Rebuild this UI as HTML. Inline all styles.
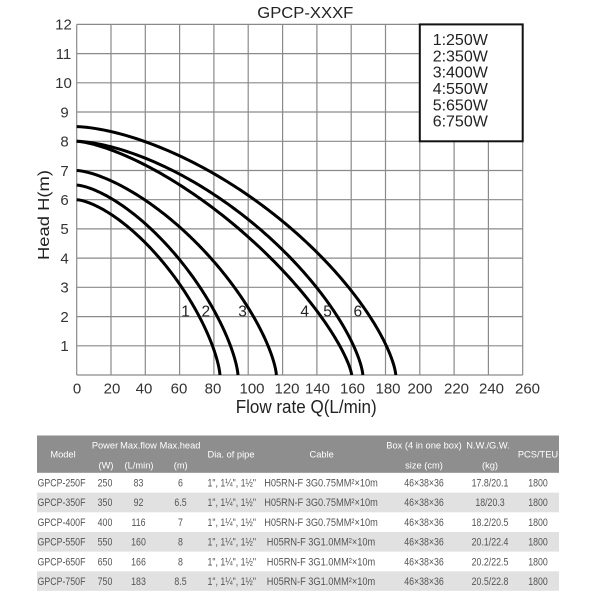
<!DOCTYPE html>
<html>
<head>
<meta charset="utf-8">
<style>
html,body{margin:0;padding:0;background:#fff;}
svg{display:block;}
text{font-family:"Liberation Sans",Arial,sans-serif;}
</style>
</head>
<body>
<svg width="600" height="600" viewBox="0 0 600 600" xmlns="http://www.w3.org/2000/svg">
<rect width="600" height="600" fill="#fff"/>

<!-- grid -->
<g stroke="#8a8a8a" stroke-width="1.2">
<line x1="76.7" y1="24.4" x2="76.7" y2="375"/>
<line x1="111.0" y1="24.4" x2="111.0" y2="375"/>
<line x1="145.3" y1="24.4" x2="145.3" y2="375"/>
<line x1="179.6" y1="24.4" x2="179.6" y2="375"/>
<line x1="213.9" y1="24.4" x2="213.9" y2="375"/>
<line x1="248.2" y1="24.4" x2="248.2" y2="375"/>
<line x1="282.6" y1="24.4" x2="282.6" y2="375"/>
<line x1="316.9" y1="24.4" x2="316.9" y2="375"/>
<line x1="351.2" y1="24.4" x2="351.2" y2="375"/>
<line x1="385.5" y1="24.4" x2="385.5" y2="375"/>
<line x1="419.8" y1="24.4" x2="419.8" y2="375"/>
<line x1="454.1" y1="24.4" x2="454.1" y2="375"/>
<line x1="488.4" y1="24.4" x2="488.4" y2="375"/>
<line x1="522.7" y1="24.4" x2="522.7" y2="375"/>
<line x1="76.7" y1="375" x2="522.7" y2="375"/>
<line x1="76.7" y1="345.8" x2="522.7" y2="345.8"/>
<line x1="76.7" y1="316.6" x2="522.7" y2="316.6"/>
<line x1="76.7" y1="287.3" x2="522.7" y2="287.3"/>
<line x1="76.7" y1="258.1" x2="522.7" y2="258.1"/>
<line x1="76.7" y1="228.9" x2="522.7" y2="228.9"/>
<line x1="76.7" y1="199.7" x2="522.7" y2="199.7"/>
<line x1="76.7" y1="170.5" x2="522.7" y2="170.5"/>
<line x1="76.7" y1="141.3" x2="522.7" y2="141.3"/>
<line x1="76.7" y1="112.0" x2="522.7" y2="112.0"/>
<line x1="76.7" y1="82.8" x2="522.7" y2="82.8"/>
<line x1="76.7" y1="53.6" x2="522.7" y2="53.6"/>
<line x1="76.7" y1="24.4" x2="522.7" y2="24.4"/>
</g>

<!-- legend box -->
<rect x="419.8" y="24.4" width="102.9" height="116.9" fill="#fff" stroke="#111" stroke-width="2"/>
<g font-size="16" fill="#222">
<text x="432.7" y="45">1:250W</text>
<text x="432.7" y="61.3">2:350W</text>
<text x="432.7" y="77.6">3:400W</text>
<text x="432.7" y="94">4:550W</text>
<text x="432.7" y="110.3">5:650W</text>
<text x="432.7" y="126.6">6:750W</text>
</g>

<!-- curves -->
<g id="curves" fill="none" stroke="#000" stroke-width="3" stroke-linejoin="round" stroke-linecap="butt"></g>

<!-- curve labels -->
<g font-size="15.5" fill="#222" text-anchor="middle">
<text x="185.5" y="316.5">1</text>
<text x="205.8" y="316.5">2</text>
<text x="242.5" y="316.5">3</text>
<text x="304.7" y="316.5">4</text>
<text x="327.5" y="316.5">5</text>
<text x="357.8" y="316.5">6</text>
</g>

<!-- title -->
<text x="305.3" y="17.8" font-size="16" fill="#222" text-anchor="middle" textLength="96" lengthAdjust="spacingAndGlyphs">GPCP-XXXF</text>

<!-- y tick labels -->
<g font-size="15" fill="#333" text-anchor="middle">
<text x="63.5" y="29.7">12</text>
<text x="63.5" y="58.9">11</text>
<text x="63.5" y="88.1">10</text>
<text x="64.5" y="117.3">9</text>
<text x="64.5" y="146.6">8</text>
<text x="64.5" y="175.8">7</text>
<text x="64.5" y="205">6</text>
<text x="64.5" y="234.2">5</text>
<text x="64.5" y="263.4">4</text>
<text x="64.5" y="292.6">3</text>
<text x="64.5" y="321.9">2</text>
<text x="64.5" y="351.1">1</text>
</g>

<!-- x tick labels -->
<g font-size="15" fill="#333" text-anchor="middle">
<text x="77" y="393.7">0</text>
<text x="112" y="393.7">20</text>
<text x="144" y="393.7">40</text>
<text x="179" y="393.7">60</text>
<text x="213" y="393.7">80</text>
<text x="252" y="393.7">100</text>
<text x="287" y="393.7">120</text>
<text x="317.5" y="393.7">140</text>
<text x="352.5" y="393.7">160</text>
<text x="388" y="393.7">180</text>
<text x="420" y="393.7">200</text>
<text x="456.5" y="393.7">220</text>
<text x="491.5" y="393.7">240</text>
<text x="527.5" y="393.7">260</text>
</g>

<!-- axis titles -->
<text x="306.2" y="413" font-size="18" fill="#222" text-anchor="middle" textLength="141" lengthAdjust="spacingAndGlyphs">Flow rate Q(L/min)</text>
<text transform="translate(49,215) rotate(-90)" x="0" y="0" font-size="16" fill="#222" text-anchor="middle" textLength="90" lengthAdjust="spacingAndGlyphs">Head H(m)</text>

<!-- table -->
<rect x="37" y="435.5" width="522" height="37.3" fill="#8e8e8e"/>
<rect x="37" y="492.6" width="522" height="19.7" fill="#e1e1e1"/>
<rect x="37" y="532" width="522" height="19.6" fill="#e1e1e1"/>
<rect x="37" y="571.3" width="522" height="19.5" fill="#e1e1e1"/>

<g font-size="9.3" fill="#fff" text-anchor="middle">
<text x="63" y="457.5">Model</text>
<text x="105" y="448.5">Power</text>
<text x="138.5" y="448.5">Max.flow</text>
<text x="180" y="448.5">Max.head</text>
<text x="106" y="468.5">(W)</text>
<text x="139" y="468.5">(L/min)</text>
<text x="180.7" y="468.5">(m)</text>
<text x="231" y="457.5">Dia. of pipe</text>
<text x="321.7" y="457.5">Cable</text>
<text x="424" y="448.5">Box (4 in one box)</text>
<text x="424" y="468.5">size (cm)</text>
<text x="488" y="448.5">N.W./G.W.</text>
<text x="490" y="468.5">(kg)</text>
<text x="538" y="457.5">PCS/TEU</text>
</g>

<g font-size="11" fill="#555" text-anchor="middle">
<g transform="translate(61.5,0) scale(0.8,1)">
<text x="0" y="486.4">GPCP-250F</text>
<text x="0" y="506.2">GPCP-350F</text>
<text x="0" y="526">GPCP-400F</text>
<text x="0" y="545.7">GPCP-550F</text>
<text x="0" y="565.4">GPCP-650F</text>
<text x="0" y="585">GPCP-750F</text>
</g>
<g transform="translate(105,0) scale(0.8,1)">
<text x="0" y="486.4">250</text>
<text x="0" y="506.2">350</text>
<text x="0" y="526">400</text>
<text x="0" y="545.7">550</text>
<text x="0" y="565.4">650</text>
<text x="0" y="585">750</text>
</g>
<g transform="translate(138.5,0) scale(0.8,1)">
<text x="0" y="486.4">83</text>
<text x="0" y="506.2">92</text>
<text x="0" y="526">116</text>
<text x="0" y="545.7">160</text>
<text x="0" y="565.4">166</text>
<text x="0" y="585">183</text>
</g>
<g transform="translate(180.5,0) scale(0.8,1)">
<text x="0" y="486.4">6</text>
<text x="0" y="506.2">6.5</text>
<text x="0" y="526">7</text>
<text x="0" y="545.7">8</text>
<text x="0" y="565.4">8</text>
<text x="0" y="585">8.5</text>
</g>
<g transform="translate(231.7,0) scale(0.8,1)">
<text x="0" y="486.4">1&quot;, 1¼&quot;, 1½&quot;</text>
<text x="0" y="506.2">1&quot;, 1¼&quot;, 1½&quot;</text>
<text x="0" y="526">1&quot;, 1¼&quot;, 1½&quot;</text>
<text x="0" y="545.7">1&quot;, 1¼&quot;, 1½&quot;</text>
<text x="0" y="565.4">1&quot;, 1¼&quot;, 1½&quot;</text>
<text x="0" y="585">1&quot;, 1¼&quot;, 1½&quot;</text>
</g>
<g transform="translate(321,0) scale(0.84,1)">
<text x="0" y="486.4">H05RN-F 3G0.75MM²×10m</text>
<text x="0" y="506.2">H05RN-F 3G0.75MM²×10m</text>
<text x="0" y="526">H05RN-F 3G0.75MM²×10m</text>
<text x="0" y="545.7">H05RN-F 3G1.0MM²×10m</text>
<text x="0" y="565.4">H05RN-F 3G1.0MM²×10m</text>
<text x="0" y="585">H05RN-F 3G1.0MM²×10m</text>
</g>
<g transform="translate(424,0) scale(0.8,1)">
<text x="0" y="486.4">46×38×36</text>
<text x="0" y="506.2">46×38×36</text>
<text x="0" y="526">46×38×36</text>
<text x="0" y="545.7">46×38×36</text>
<text x="0" y="565.4">46×38×36</text>
<text x="0" y="585">46×38×36</text>
</g>
<g transform="translate(490,0) scale(0.8,1)">
<text x="0" y="486.4">17.8/20.1</text>
<text x="0" y="506.2">18/20.3</text>
<text x="0" y="526">18.2/20.5</text>
<text x="0" y="545.7">20.1/22.4</text>
<text x="0" y="565.4">20.2/22.5</text>
<text x="0" y="585">20.5/22.8</text>
</g>
<g transform="translate(538,0) scale(0.8,1)">
<text x="0" y="486.4">1800</text>
<text x="0" y="506.2">1800</text>
<text x="0" y="526">1800</text>
<text x="0" y="545.7">1800</text>
<text x="0" y="565.4">1800</text>
<text x="0" y="585">1800</text>
</g>
</g>
</svg>
<script>
(function(){
  var X=function(q){return 76.7+q*446/260;};
  var Y=function(h){return 375-h*350.6/12;};
  var C=[[6,83.5,1.5,0.7],[6.5,94,1.5,0.7],[7,116.4,1.5,0.7],[8,160.3,1.45,0.75],[8,166.8,1.6,0.7],[8.5,186,1.6,0.7]];
  var g=document.getElementById('curves');
  C.forEach(function(c){
    var d='';
    for(var i=0;i<=160;i++){
      var s=i/160;
      var t=1-Math.pow(1-s,2);
      var h=c[0]*Math.pow(Math.max(0,1-Math.pow(t,c[2])),c[3]);
      d+=(i?'L':'M')+X(t*c[1]).toFixed(2)+' '+Y(h).toFixed(2);
    }
    var p=document.createElementNS('http://www.w3.org/2000/svg','path');
    p.setAttribute('d',d);
    g.appendChild(p);
  });
})();
</script>
</body>
</html>
